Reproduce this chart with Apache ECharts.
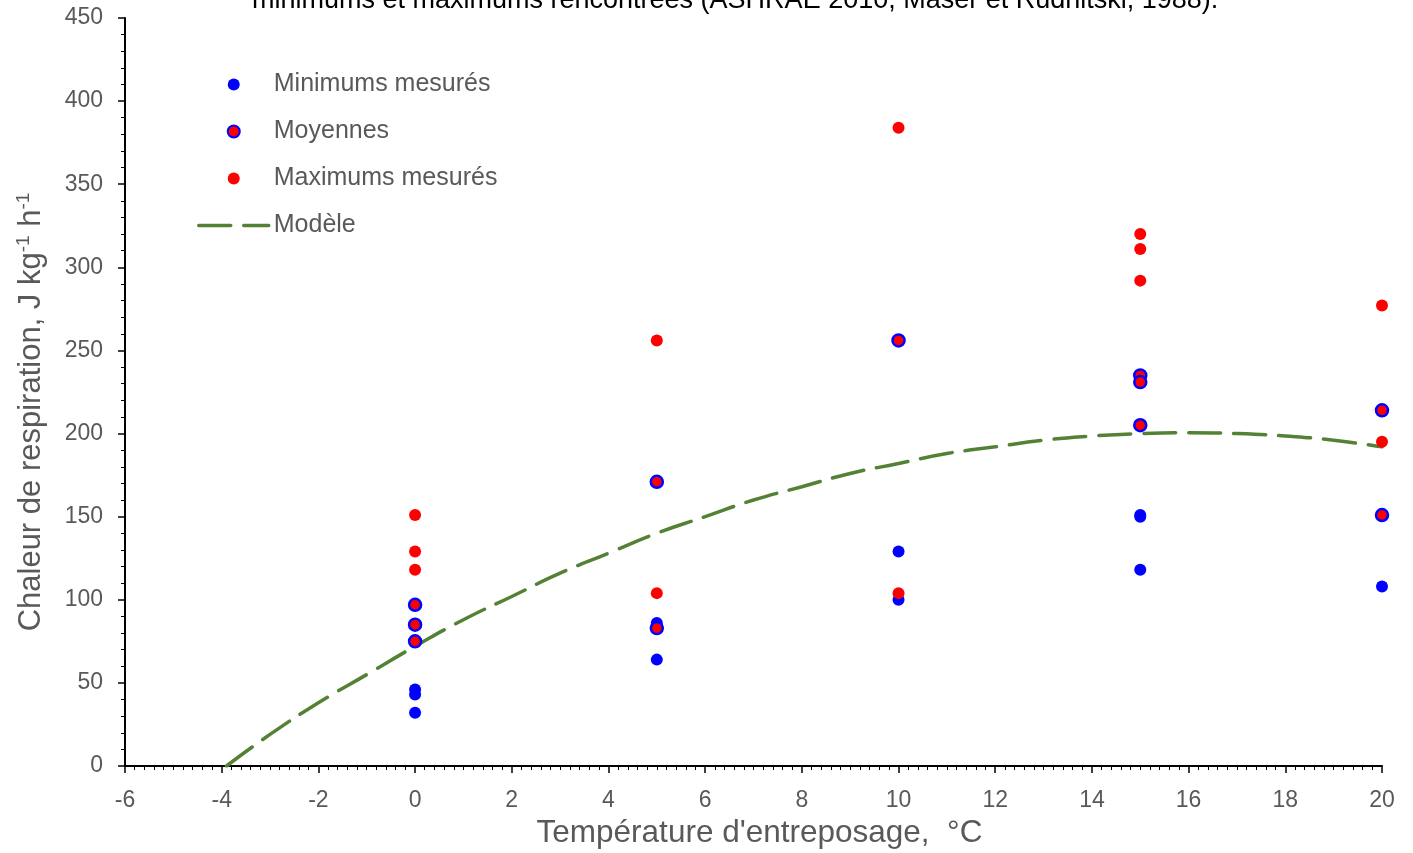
<!DOCTYPE html>
<html>
<head>
<meta charset="utf-8">
<script src="https://cdn.jsdelivr.net/npm/echarts@6/dist/echarts.min.js"></script>
<style>
  html, body { margin: 0; padding: 0; background: #fff; }
  #chart { width: 1413px; height: 853px; }
</style>
</head>
<body>
<div id="chart"></div>
<script>
// Respiration heat vs storage temperature
const minTemp = [0, 0, 0, 5, 5, 10, 10, 15, 15, 15, 20];
const minHeat = [46, 43, 32, 86, 64, 129, 100, 151, 150, 118, 108];

const avgTemp = [0, 0, 0, 5, 5, 10, 15, 15, 15, 20, 20];
const avgHeat = [97, 85, 75, 171, 83, 256, 235, 231, 205, 214, 151];

const maxTemp = [0, 0, 0, 5, 5, 10, 10, 15, 15, 15, 20, 20];
const maxHeat = [151, 129, 118, 256, 104, 384, 104, 320, 311, 292, 277, 195];

// Model curve, read at whole degrees
const modelTemp = [-3.9, -3, -2, -1, 0, 1, 2, 3, 4, 5, 6, 7, 8, 9, 10, 11, 12, 13, 14, 15, 16, 17, 18, 19, 20];
const modelHeat = [0, 19, 38, 55, 72, 88, 102, 116, 128, 140, 150, 160, 168, 176, 182, 188, 192, 196, 198.5, 200, 200.5, 200, 198.5, 196, 192];

const xTicks = { min: -6, max: 20, step: 2 };
const yTicks = { min: 0, max: 450, step: 50 };

const pair = (xs, ys) => xs.map((x, i) => [x, ys[i]]);

const FONT = 'Liberation Sans, Arial, sans-serif';
const GREY = '#595959';
const GREEN = '#548235';
const DASH = [32, 13];

const chart = echarts.init(document.getElementById('chart'));
chart.setOption({
  animation: false,
  backgroundColor: '#ffffff',
  title: {
    text: 'minimums et maximums rencontrées (ASHRAE 2010, Maser et Rudnitski, 1988).',
    left: 247,
    top: -18,
    textStyle: { fontFamily: FONT, fontSize: 27, fontWeight: 'normal', color: '#000000' }
  },
  grid: { left: 125, right: 31, top: 18, bottom: 87, outerBoundsMode: 'none', containLabel: false },
  legend: {
    orient: 'vertical',
    left: 192,
    top: 67,
    itemWidth: 70,
    itemHeight: 12,
    itemGap: 22,
    textStyle: { fontFamily: FONT, fontSize: 25, color: GREY, lineHeight: 22 },
    data: [
      'Minimums mesurés',
      'Moyennes',
      'Maximums mesurés',
      { name: 'Modèle', itemStyle: { opacity: 0 }, lineStyle: { color: GREEN, width: 3.5, type: DASH } }
    ]
  },
  xAxis: {
    type: 'value',
    min: xTicks.min,
    max: xTicks.max,
    interval: xTicks.step,
    name: "Température d'entreposage,  °C",
    nameLocation: 'middle',
    nameGap: 51,
    nameTextStyle: { fontFamily: FONT, fontSize: 31.5, color: GREY, padding: [0, 0, 0, 12] },
    axisLine: { onZero: false, lineStyle: { color: '#000000', width: 2 } },
    axisTick: { show: true, inside: false, length: 7, lineStyle: { color: '#000000', width: 1.5 } },
    minorTick: { show: true, splitNumber: 10, length: 4, lineStyle: { color: '#000000', width: 1 } },
    splitLine: { show: false },
    axisLabel: { fontFamily: FONT, fontSize: 23, color: GREY, margin: 23 }
  },
  yAxis: {
    type: 'value',
    min: yTicks.min,
    max: yTicks.max,
    interval: yTicks.step,
    name: 'Chaleur de respiration, J kg{sup|-1} h{sup|-1}',
    nameLocation: 'middle',
    nameRotate: 90,
    nameGap: 77,
    nameTextStyle: {
      fontFamily: FONT, fontSize: 31, color: GREY,
      padding: [0, 40, 0, 0],
      rich: { sup: { fontFamily: FONT, fontSize: 19, color: GREY, verticalAlign: 'top', padding: [0, 0, 15, 0] } }
    },
    axisLine: { show: true, onZero: false, lineStyle: { color: '#000000', width: 2 } },
    axisTick: { show: true, inside: false, length: 7, lineStyle: { color: '#000000', width: 1.5 } },
    minorTick: { show: true, splitNumber: 5, length: 4, lineStyle: { color: '#000000', width: 1 } },
    splitLine: { show: false },
    axisLabel: { fontFamily: FONT, fontSize: 23, color: GREY, margin: 22 }
  },
  series: [
    {
      name: 'Modèle',
      type: 'line',
      smooth: true,
      symbol: 'none',
      z: 1,
      lineStyle: { color: GREEN, width: 3.5, type: DASH, cap: 'round' },
      itemStyle: { color: GREEN },
      data: pair(modelTemp, modelHeat)
    },
    {
      name: 'Minimums mesurés',
      type: 'scatter',
      symbol: 'circle',
      symbolSize: 12,
      z: 2,
      itemStyle: { color: '#0000ff', opacity: 1 },
      data: pair(minTemp, minHeat)
    },
    {
      name: 'Moyennes',
      type: 'scatter',
      symbol: 'circle',
      symbolSize: 12,
      z: 3,
      itemStyle: { color: '#ff0000', borderColor: '#0000ff', borderWidth: 2.5, opacity: 1 },
      data: pair(avgTemp, avgHeat)
    },
    {
      name: 'Maximums mesurés',
      type: 'scatter',
      symbol: 'circle',
      symbolSize: 12,
      z: 4,
      itemStyle: { color: '#ff0000', opacity: 1 },
      data: pair(maxTemp, maxHeat)
    }
  ]
});
</script>
</body>
</html>
